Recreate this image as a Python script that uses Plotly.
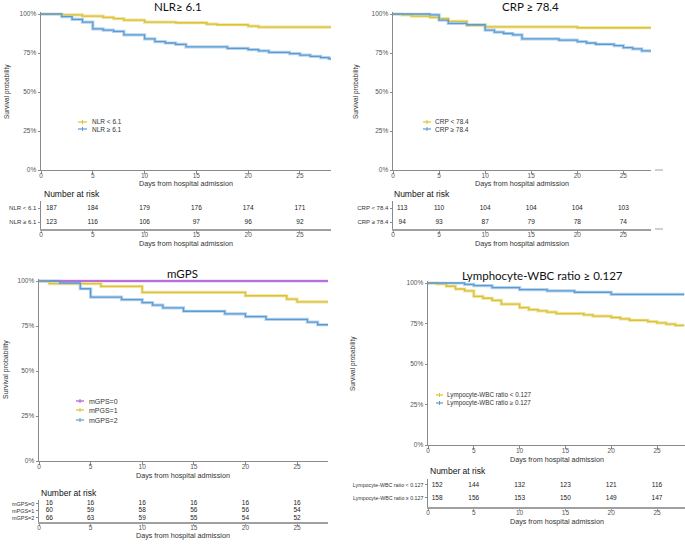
import plotly.graph_objects as go

# ---------------- data ----------------
nlr_low_t = [0, 2, 4, 6, 7, 8, 10, 13, 16, 17, 20, 21, 28]
nlr_low_s = [100, 99.5, 98.7, 97.8, 97, 96.1, 94.8, 94.4, 93.5, 93.1, 92.2, 91.6, 91.6]
nlr_high_t = [0, 2, 3, 4, 5, 6, 7, 8, 10, 11, 12, 13, 14, 18, 20, 21, 22, 24, 25, 26, 27, 27.8, 28]
nlr_high_s = [100, 98.3, 96.6, 94.8, 90.5, 89.7, 88.8, 86.6, 84, 82.3, 81.4, 80.5, 78.9, 78, 77.2,
              76.3, 75.4, 74.6, 73.7, 72.8, 72, 71.3, 71.3]

crp_low_t = [0, 1, 2, 4, 5, 6, 8, 10, 20, 28]
crp_low_s = [100, 99.4, 98.7, 97.8, 97, 95.3, 92.7, 91.8, 91.2, 91.2]
crp_high_t = [0, 4, 5, 6, 8, 10, 11, 12, 13, 14, 18, 20, 21, 22, 24, 25, 26, 27, 28]
crp_high_s = [100, 99.4, 96.1, 94, 93.1, 89.7, 88.4, 87.5, 86.6, 84, 83.2, 82.3, 81.4, 80.6,
              79.7, 78.4, 77.6, 76.3, 76.3]
crp_censor_t = [28.4, 28.4]
crp_censor_s = [92.9, 73.9]

mgps0_t = [0, 28]
mgps0_s = [100, 100]
mgps1_t = [0, 1, 6, 10, 20, 24, 25, 28]
mgps1_s = [100, 98.5, 97, 93.7, 91.8, 89.9, 88.4, 88.4]
mgps2_t = [0, 2, 4, 5, 8, 10, 11, 12, 14, 18, 20, 22, 26, 27, 28]
mgps2_s = [100, 98.9, 95.7, 91, 89.6, 88, 86.6, 85.1, 83.2, 81.7, 80.2, 78.7, 77.2, 75.7, 75.7]

lym_low_t = [0, 1, 2, 3, 4, 5, 6, 7, 8, 10, 11, 12, 13, 14, 17, 18, 20, 21, 22, 24, 25, 26, 27, 28]
lym_low_s = [100, 99.4, 98, 96.3, 95.1, 91.8, 90.6, 89.3, 86.9, 84.8, 83.6, 82.8, 82, 81.1, 80.3,
             79.5, 78.7, 77.9, 77, 76.2, 75.4, 74.6, 73.8, 73.8]
lym_high_t = [0, 4, 5, 7, 10, 13, 16, 20, 28]
lym_high_s = [100, 99.2, 98.4, 97.1, 95.9, 95.1, 94.3, 93, 93]

risk_times = [1, 5, 10, 15, 20, 25]
nlr_low_risk = [187, 184, 179, 176, 174, 171]
nlr_high_risk = [123, 116, 106, 97, 96, 92]
crp_low_risk = [113, 110, 104, 104, 104, 103]
crp_high_risk = [94, 93, 87, 79, 78, 74]
mgps0_risk = [16, 16, 16, 16, 16, 16]
mgps1_risk = [60, 59, 58, 56, 56, 54]
mgps2_risk = [66, 63, 59, 55, 54, 52]
lym_low_risk = [152, 144, 132, 123, 121, 116]
lym_high_risk = [158, 156, 153, 150, 149, 147]

x_ticks = [0, 5, 10, 15, 20, 25]
y_ticks = [0, 25, 50, 75, 100]
y_ticktext = ["0%", "25%", "50%", "75%", "100%"]

# ---------------- styling ----------------
W, H = 685, 552
YEL, YEL_L = "#DCC130", "#EFE3A6"
BLU, BLU_L = "#5B9BD3", "#B8D4EC"
PUR, PUR_L = "#A957D6", "#DDBDF0"
FONT = "Liberation Sans, Arial, sans-serif"
TFONT = "Lato, sans-serif"
AX = "#8a8a8a"
TICKC = "#555555"


def px(x):
    return x / W


def py(y):
    return 1 - y / H


fig = go.Figure()
layout = {}
annotations = []
shapes = []


def axis_base(dom, rng, tickvals, ticktext=None, tsize=6.5, lw=1, lc=AX, standoff=0):
    d = dict(domain=dom, range=rng, tickvals=tickvals, showline=True, linecolor=lc,
             linewidth=lw, ticks="outside", ticklen=2.5, tickcolor=lc, tickwidth=1,
             showgrid=False, zeroline=False, automargin=False,
             tickfont=dict(family=FONT, size=tsize, color=TICKC), fixedrange=True)
    if standoff:
        d["ticklabelstandoff"] = standoff
    if ticktext is not None:
        d["ticktext"] = ticktext
    return d


def km_panel(n, xl, xr, yt, yb, series):
    xa = "x" + ("" if n == 1 else str(n))
    ya = "y" + ("" if n == 1 else str(n))
    top = yt - 1.0 * (yb - yt) / 100.0
    layout["xaxis" + ("" if n == 1 else str(n))] = dict(
        axis_base([px(xl), px(xr)], [0, 28], x_ticks, standoff=-3), anchor=ya)
    layout["yaxis" + ("" if n == 1 else str(n))] = dict(
        axis_base([py(yb), py(top)], [0, 101], y_ticks, y_ticktext), anchor=xa)
    for t, s, c, cl in series:
        fig.add_trace(go.Scatter(x=t, y=s, xaxis=xa, yaxis=ya, mode="lines",
                                 line=dict(color=cl, width=3.2, shape="hv"), hoverinfo="skip"))
    for t, s, c, cl in series:
        fig.add_trace(go.Scatter(x=t, y=s, xaxis=xa, yaxis=ya, mode="lines",
                                 line=dict(color=c, width=1.3, shape="hv")))


def risk_panel(n, xl, xr, yt, yb, rng, rows, labels, lsize=6):
    xa = "x" + str(n)
    ya = "y" + str(n)
    layout["xaxis" + str(n)] = dict(
        axis_base([px(xl), px(xr)], [0, 28], x_ticks, lw=1.6, lc="#a0a0a0", standoff=-4),
        anchor=ya)
    layout["yaxis" + str(n)] = dict(
        axis_base([py(yb), py(yt)], rng, list(range(len(rows), 0, -1)), labels, tsize=lsize),
        anchor=xa)
    layout["yaxis" + str(n)]["tickfont"]["color"] = "#333333"
    for i, vals in enumerate(rows):
        yv = len(rows) - i
        fig.add_trace(go.Scatter(x=risk_times, y=[yv] * len(vals), xaxis=xa, yaxis=ya,
                                 mode="text", text=[str(v) for v in vals],
                                 textfont=dict(family=FONT, size=6.5, color="#222222"),
                                 hoverinfo="skip", cliponaxis=False))


def txt(x, y, s, size=7, color="#333333", family=FONT, xanchor="center", angle=0):
    annotations.append(dict(x=px(x), y=py(y), xref="paper", yref="paper", text=s, showarrow=False,
                            xanchor=xanchor, yanchor="middle", textangle=angle,
                            font=dict(family=family, size=size, color=color)))


def legend_entry(x0, x1, y, color, label, tx, size=6.5):
    shapes.append(dict(type="line", xref="paper", yref="paper", x0=px(x0), x1=px(x1), y0=py(y),
                       y1=py(y), line=dict(color=color, width=1.2)))
    xm = (x0 + x1) / 2
    shapes.append(dict(type="line", xref="paper", yref="paper", x0=px(xm), x1=px(xm),
                       y0=py(y - 2), y1=py(y + 2), line=dict(color=color, width=1)))
    txt(tx, y, label, size=size, xanchor="left")


# ---------------- panel 1: NLR ----------------
km_panel(1, 41, 331, 14, 170,
         [(nlr_low_t, nlr_low_s, YEL, YEL_L), (nlr_high_t, nlr_high_s, BLU, BLU_L)])
risk_panel(2, 41, 331, 201, 229, [0.5, 2.5], [nlr_low_risk, nlr_high_risk],
           ["NLR < 6.1", "NLR ≥ 6.1"])
txt(178, 7, "NLR≥ 6.1", size=11.5, color="#111111", family=TFONT)
txt(7, 92, "Survival probability", size=6.5, angle=-90)
txt(186, 183, "Days from hospital admission", size=7.2)
txt(42, 194, "Number at risk", size=8.5, color="#111111", xanchor="left")
txt(186, 243, "Days from hospital admission", size=7.2)
legend_entry(78, 87, 122, YEL, "NLR < 6.1", 90)
legend_entry(78, 87, 129, BLU, "NLR ≥ 6.1", 90)

# ---------------- panel 2: CRP ----------------
km_panel(3, 393, 651, 14, 170,
         [(crp_low_t, crp_low_s, YEL, YEL_L), (crp_high_t, crp_high_s, BLU, BLU_L)])
fig.add_trace(go.Scatter(x=crp_censor_t[:1], y=crp_censor_s[:1], xaxis="x3", yaxis="y3",
                         mode="markers", cliponaxis=False,
                         marker=dict(symbol="cross-thin", size=5, line=dict(color=YEL, width=1))))
fig.add_trace(go.Scatter(x=crp_censor_t[1:], y=crp_censor_s[1:], xaxis="x3", yaxis="y3",
                         mode="markers", cliponaxis=False,
                         marker=dict(symbol="cross-thin", size=5, line=dict(color=BLU, width=1))))
risk_panel(4, 393, 651, 201, 229, [0.5, 2.5], [crp_low_risk, crp_high_risk],
           ["CRP < 78.4", "CRP ≥ 78.4"])
txt(530, 7, "CRP ≥ 78.4", size=11.5, color="#111111", family=TFONT)
txt(356, 92, "Survival probability", size=6.5, angle=-90)
txt(522, 183, "Days from hospital admission", size=7.2)
txt(392, 194, "Number at risk", size=8.5, color="#111111", xanchor="left")
txt(522, 243, "Days from hospital admission", size=7.2)
legend_entry(423, 431, 122, YEL, "CRP < 78.4", 433)
legend_entry(423, 431, 129, BLU, "CRP ≥ 78.4", 433)
for yy in (170, 229):
    shapes.append(dict(type="line", xref="paper", yref="paper", x0=px(655), x1=px(663),
                       y0=py(yy), y1=py(yy), line=dict(color="#a0a0a0", width=1)))

# ---------------- panel 3: mGPS ----------------
km_panel(5, 39, 328, 281, 461,
         [(mgps0_t, mgps0_s, PUR, PUR_L), (mgps1_t, mgps1_s, YEL, YEL_L),
          (mgps2_t, mgps2_s, BLU, BLU_L)])
risk_panel(6, 39, 328, 500, 521.5, [0.5, 3.5], [mgps0_risk, mgps1_risk, mgps2_risk],
           ["mGPS=0", "mPGS=1", "mGPS=2"], lsize=5.5)
txt(183, 273, "mGPS", size=11.5, color="#111111", family=TFONT)
txt(6, 370, "Survival probability", size=7, angle=-90)
txt(183, 475, "Days from hospital admission", size=7.2)
txt(39, 493, "Number at risk", size=8.5, color="#111111", xanchor="left")
txt(183, 535, "Days from hospital admission", size=7.2)
legend_entry(76, 84, 401, PUR, "mGPS=0", 87, size=7)
legend_entry(76, 84, 410, YEL, "mPGS=1", 87, size=7)
legend_entry(76, 84, 420, BLU, "mGPS=2", 87, size=7)

# ---------------- panel 4: Lymphocyte-WBC ----------------
km_panel(7, 428, 684.5, 283, 445,
         [(lym_low_t, lym_low_s, YEL, YEL_L), (lym_high_t, lym_high_s, BLU, BLU_L)])
risk_panel(8, 428, 684.5, 478.5, 507, [0.3, 2.5], [lym_low_risk, lym_high_risk],
           ["Lympocyte-WBC ratio < 0.127", "Lympocyte-WBC ratio ≥ 0.127"], lsize=5.3)
txt(542, 275, "Lymphocyte-WBC ratio ≥ 0.127", size=11.5, color="#111111", family=TFONT)
txt(353, 363, "Survival probability", size=6.5, angle=-90)
txt(557, 459, "Days from hospital admission", size=7.2)
txt(428, 471, "Number at risk", size=8.5, color="#111111", xanchor="left")
txt(557, 521, "Days from hospital admission", size=7.2)
legend_entry(436, 443, 395, YEL, "Lympocyte-WBC ratio < 0.127", 445, size=6.3)
legend_entry(436, 443, 403, BLU, "Lympocyte-WBC ratio ≥ 0.127", 445, size=6.3)

fig.update_layout(width=W, height=H, margin=dict(l=0, r=0, t=0, b=0),
                  plot_bgcolor="white", paper_bgcolor="white", showlegend=False,
                  annotations=annotations, shapes=shapes, **layout)
fig.write_html("out.html", config={"displayModeBar": False},
               post_script="document.body.style.margin='0';document.body.style.overflow='hidden';")
